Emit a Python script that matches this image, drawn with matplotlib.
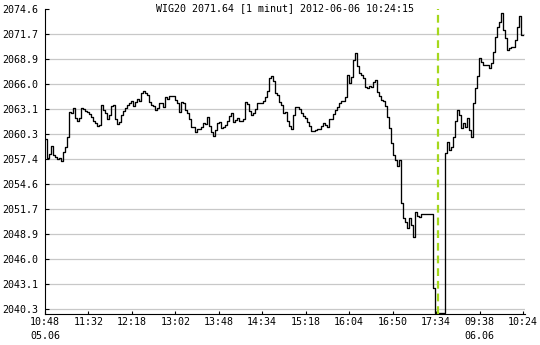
import numpy as np
import matplotlib
matplotlib.use("Agg")
import matplotlib.pyplot as plt

# ── palette / fonts ───────────────────────────────────────────────────────────
LINE   = "#000000"
GRID   = "#c8c8c8"
BREAK  = "#a5d81c"          # session break marker
FONT   = "DejaVu Sans Mono"
FSIZE  = 7.2

# ── data (WIG20, 1-minute closes, sampled every 2 min) ────────────────────────
day1_prices = [
    2059.74, 2057.53, 2057.99, 2058.94, 2057.91, 2057.65, 2057.49, 2057.53, 2057.26, 2058.29,
    2058.86, 2060.00, 2062.86, 2062.68, 2063.25, 2062.10, 2061.83, 2062.10, 2063.32, 2063.20,
    2062.97, 2062.86, 2062.60, 2062.29, 2061.83, 2061.53, 2061.26, 2061.34, 2063.63, 2063.05,
    2062.68, 2061.99, 2062.48, 2063.55, 2063.63, 2061.99, 2061.45, 2061.72, 2062.45, 2062.97,
    2063.28, 2063.59, 2063.82, 2064.12, 2063.51, 2063.93, 2064.28, 2064.12, 2064.96, 2065.23,
    2064.96, 2064.73, 2064.00, 2063.66, 2063.55, 2063.05, 2063.32, 2063.82, 2063.89, 2063.43,
    2064.57, 2064.31, 2064.65, 2064.65, 2064.65, 2064.20, 2063.82, 2062.86, 2063.93, 2063.89,
    2063.05, 2062.68, 2061.99, 2061.08, 2061.08, 2060.57, 2060.85, 2060.92, 2061.14, 2061.53,
    2061.45, 2062.22, 2061.22, 2060.54, 2060.08, 2060.77, 2061.53, 2061.72, 2061.03, 2061.14,
    2061.34, 2061.80, 2062.37, 2062.68, 2061.72, 2061.91, 2062.10, 2061.80,
    2061.83, 2061.99, 2063.97, 2063.74, 2062.94, 2062.45, 2062.71, 2063.17, 2063.82, 2063.82,
    2063.85, 2064.12, 2064.57, 2065.26, 2066.68, 2066.94, 2066.40, 2065.03, 2064.73, 2064.00,
    2063.63, 2062.74, 2062.79, 2061.80, 2061.22, 2060.85, 2062.48, 2063.40, 2063.40, 2063.20,
    2062.74, 2062.40, 2062.14, 2061.68, 2061.22, 2060.69, 2060.69, 2060.73, 2060.92, 2060.92,
    2061.26, 2061.57, 2061.34, 2061.08, 2062.02, 2061.99, 2062.60, 2063.05,
    2063.43, 2063.85, 2064.05, 2064.12, 2064.51, 2067.05, 2066.17, 2066.86, 2068.77, 2069.54,
    2068.08, 2067.25, 2067.05, 2066.68, 2065.72, 2065.53, 2065.80, 2065.72, 2066.29, 2066.48,
    2065.15, 2064.65, 2064.20, 2064.05, 2063.51, 2062.29, 2060.96, 2059.25, 2057.91, 2057.34,
    2056.65, 2057.34, 2052.39, 2050.67, 2050.28, 2049.53, 2050.67, 2049.91, 2048.57, 2051.43,
    2050.94, 2050.86, 2051.16, 2051.16, 2051.16, 2051.16, 2051.16, 2051.16, 2042.67, 2039.85,
    2039.85,
]
day2_prices = [
    2039.85, 2039.85, 2039.85, 2058.10, 2059.43, 2058.48, 2058.86, 2060.00, 2061.83, 2063.05,
    2062.48, 2060.96, 2061.60, 2061.14, 2062.10, 2060.77, 2060.00, 2063.82, 2065.53, 2066.94,
    2068.96, 2068.58, 2068.20, 2068.20, 2068.20, 2067.82, 2068.39, 2069.72, 2071.43, 2072.51,
    2073.15, 2074.18, 2072.20, 2071.25, 2069.91, 2070.11, 2070.29, 2070.29, 2071.06, 2072.58,
    2073.80, 2071.63, 2071.64,
]
time_labels = ["10:48\n05.06", "11:32", "12:18", "13:02", "13:48", "14:34",
               "15:18", "16:04", "16:50", "17:34", "09:38\n06.06", "10:24"]
y_labels = ["2040.3", "2043.1", "2046.0", "2048.9", "2051.7", "2054.6", "2057.4",
            "2060.3", "2063.1", "2066.0", "2068.9", "2071.7", "2074.6"]
y_range = (2039.73, 2074.6)
title = "WIG20 2071.64 [1 minut] 2012-06-06 10:24:15"

prices = day1_prices + day2_prices
xs = np.arange(len(prices))

fig = plt.figure(figsize=(5.4, 3.45), dpi=100)
fig.patch.set_facecolor("white")
ax = fig.add_axes([45 / 540, 31 / 345, 480 / 540, 305 / 345])

ax.plot(xs, prices, color=LINE, linewidth=0.95, drawstyle="steps-post", zorder=3)
ax.axvline(len(day1_prices) - 0.5, color=BREAK, linewidth=1.6,
           linestyle=(0, (3.5, 2.2)), zorder=4)

ax.set_xlim(0, len(prices))
ax.set_ylim(*y_range)

yticks = np.linspace(float(y_labels[0]), float(y_labels[-1]), len(y_labels))
ax.set_yticks(yticks)
ax.set_yticklabels(y_labels, family=FONT, fontsize=FSIZE)
ax.set_xticks(np.linspace(0, len(prices) - 1, len(time_labels)))
ax.set_xticklabels(time_labels, family=FONT, fontsize=FSIZE, linespacing=1.45)

ax.tick_params(axis="y", direction="in", length=3, width=0.8, pad=5)
ax.tick_params(axis="x", direction="in", length=2.5, width=0.8, pad=2.5)

ax.yaxis.grid(True, color=GRID, linewidth=0.9, zorder=0)
ax.get_ygridlines()[-1].set_visible(False)   # no line on the top edge
ax.set_axisbelow(True)

for side in ("top", "right"):
    ax.spines[side].set_visible(False)
for side in ("left", "bottom"):
    ax.spines[side].set_linewidth(0.8)

fig.text(284.5 / 540, 1 - 8.5 / 345, title, ha="center", va="center",
         family=FONT, fontsize=FSIZE)

fig.savefig("out.png", dpi=100)
